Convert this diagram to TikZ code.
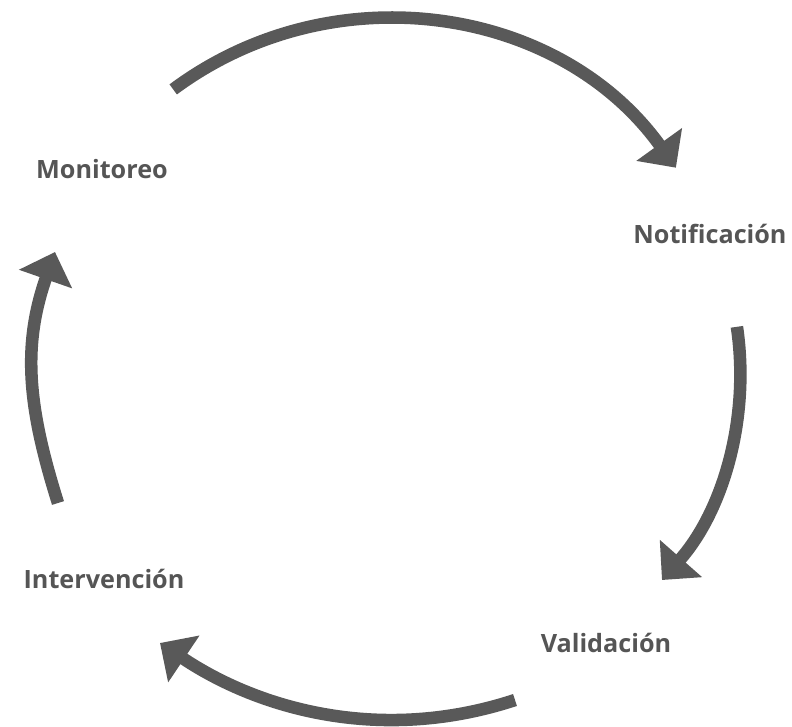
\documentclass[tikz,border=0pt]{standalone}
\usepackage{fontspec}
\setmainfont{Open Sans}
\usetikzlibrary{arrows.meta}
\definecolor{cyclegray}{RGB}{89,89,89}
\definecolor{labelgray}{RGB}{85,85,85}
\tikzset{
  cyclearrow/.style={draw=cyclegray, line width=9.4pt, -{Triangle[length=21.5pt,width=41pt]}},
  steplabel/.style={anchor=base, text=labelgray, inner sep=0pt, font=\fontsize{18.9}{22}\selectfont\bfseries},
}
\begin{document}
\begin{tikzpicture}[x=0.75pt,y=0.75pt,yscale=-1,xscale=1]
        \useasboundingbox (0,0) rectangle (792,726);

        %Text Nodes
        \node [steplabel] (mon) at (102,178) {Monitoreo};
        \node [steplabel] (noti) at (710,243) {Notificación};
        \node [steplabel] (vali) at (606,652) {Validación};
        \node [steplabel] (inter) at (104,588) {Intervención};

        %Curve ends
        \coordinate (mon-out) at (173.2,89.4);
        \coordinate (noti-in) at (675.9,167.7);
        \coordinate (noti-out) at (736.9,326.8);
        \coordinate (vali-in) at (662,580);
        \coordinate (vali-out) at (515,700);
        \coordinate (inter-in) at (160,643);
        \coordinate (inter-out) at (58,503);
        \coordinate (mon-in) at (55,252);

        %Curve Lines
        \draw [cyclearrow] (mon-out) .. controls (333.3,-29.5) and (559.5,5.8) .. (noti-in) ;
        %Curve Lines
        \draw [cyclearrow] (noti-out) .. controls (750.4,418.1) and (723,510.8) .. (vali-in) ;
        %Curve Lines
        \draw [cyclearrow] (vali-out) .. controls (382,743.7) and (259.7,709.7) .. (inter-in) ;
        %Curve Lines
        \draw [cyclearrow] (inter-out) .. controls (28,407.6) and (22,346.4) .. (mon-in) ;
\end{tikzpicture}
\end{document}
